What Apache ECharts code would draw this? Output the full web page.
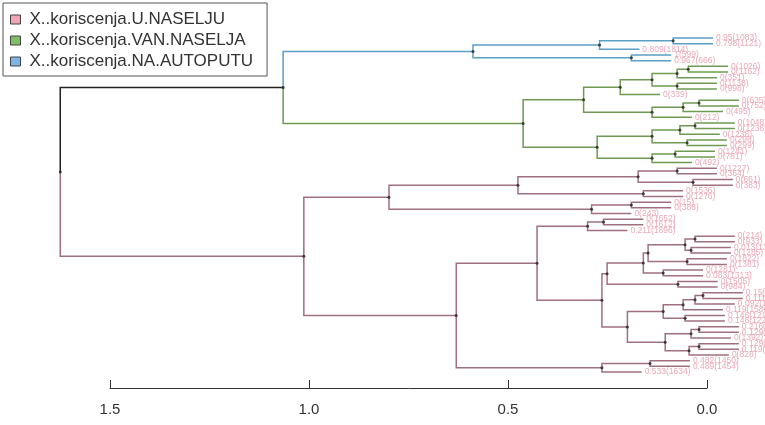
<!DOCTYPE html>
<html><head><meta charset="utf-8">
<script src="https://cdn.jsdelivr.net/npm/echarts@6/dist/echarts.min.js"></script>
<style>html,body{margin:0;padding:0;background:#fff}#c{width:765px;height:425px}</style>
</head><body><div id="c"></div>
<script>
// ---- data ----
const leafLabels = [
  "0.95(1083)","0.798(1121)","0.809(1814)","1(599)","0.967(666)",
  "0(1026)","0(1162)","0(351)","0(1138)","0(998)","0(339)",
  "0(635)","0(752)","0(495)","0(212)",
  "0(1048)","0(1236)","0(1238)","0(298)","0(299)","0(1241)","0(781)","0(492)",
  "0(1227)","0(364)","0(661)","0(383)","0(1536)","0(1276)",
  "0(15)","0(388)","0(243)",
  "0(1652)","0(1612)","0.211(1896)",
  "0(214)","0(933)","0.013(1306)","0(1285)","0(1822)","0(1381)","0(1281)","0.083(1313)","0(1505)","0(984)",
  "0.15(612)","0.111(1111)","0.092(1717)","0.119(1586)","0.146(1213)","0.146(1223)","0.216(1112)","0.129(1237)","0(1392)","0.129(1291)","0.119(1549)","0(828)",
  "0.482(1450)","0.489(1454)","0.533(1634)"
];
const legendNames = ["X..koriscenja.U.NASELJU","X..koriscenja.VAN.NASELJA","X..koriscenja.NA.AUTOPUTU"];
const xTicks = [0, 0.5, 1.0, 1.5];
const rootHeight = 1.625;
const upperHeight = 1.065;
const hang = 0.1;
// internal node = [height, left, right]; leaf = index into leafLabels
const blueTree = [0.588, [0.27, [0.085, 0, 1], 2], [0.19, 3, 4]];
const greenTree = [0.462,
  [0.31,
    [0.218, [0.138, [0.075, [0.047, 5, 6], 7], [0.075, 8, 9]], 10],
    [0.138, [0.06, [0.02, 11, 12], 13], 14]],
  [0.276,
    [0.138, [0.068, [0.03, 15, 16], 17], [0.05, 18, 19]],
    [0.138, [0.08, 20, 21], 22]]];
const pinkQ1 = [0.251, [0.16, [0.148, [0.055, [0.03, 35, 36], [0.04, 37, 38]], [0.05, 39, 40]], [0.11, 41, 42]], [0.073, 43, 44]];
const pinkQ2 = [0.2,
  [0.11, [0.06, [0.03, [0.01, 45, 46], 47], 48], [0.055, 49, 50]],
  [0.105, [0.04, [0.02, 51, 52], 53], [0.045, [0.02, 54, 55], 56]]];
const pinkTree = [1.013,
  [0.799,
    [0.475, [0.173, [0.075, 23, 24], [0.035, 25, 26]], [0.16, 27, 28]],
    [0.29, [0.19, 29, 30], 31]],
  [0.63,
    [0.427, [0.30, [0.26, 32, 33], 34], [0.264, pinkQ1, pinkQ2]],
    [0.264, [0.143, 57, 58], 59]]];

// ---- layout ----
const isLeaf = n => typeof n === 'number';
const nodeY = n => isLeaf(n) ? n : (nodeY(n[1]) + nodeY(n[2])) / 2;
const segs = { pink: [], green: [], blue: [], black: [] };
const dots = [];
const labels = [];
function edge(parent, child, key) {
  const h = parent[0], y = nodeY(parent), cy = nodeY(child);
  const ch = isLeaf(child) ? h - hang : child[0];
  segs[key].push([h, y, h, cy, ch, cy]);
  if (isLeaf(child)) labels.push([ch, cy, leafLabels[child]]);
}
function walk(n, key) {
  if (isLeaf(n)) return;
  dots.push([n[0], nodeY(n)]);
  edge(n, n[1], key); edge(n, n[2], key);
  walk(n[1], key); walk(n[2], key);
}
const upper = [upperHeight, blueTree, greenTree];
const root = [rootHeight, upper, pinkTree];
dots.push([root[0], nodeY(root)], [upper[0], nodeY(upper)]);
edge(root, upper, 'black');
edge(root, pinkTree, 'pink');
edge(upper, blueTree, 'blue');
edge(upper, greenTree, 'green');
walk(blueTree, 'blue'); walk(greenTree, 'green'); walk(pinkTree, 'pink');

const lineColors = { pink: '#a0707f', green: '#6e9a52', blue: '#5b9ec6', black: '#222222' };
const legendColors = ['#f2a5b8', '#7fbf63', '#80b3e3'];

function renderSeg(params, api) {
  const a = api.coord([api.value(0), api.value(1)]);
  const b = api.coord([api.value(2), api.value(3)]);
  const c = api.coord([api.value(4), api.value(5)]);
  return { type: 'polyline', shape: { points: [a, b, c] },
    style: { stroke: api.visual('color'), lineWidth: 1.5, fill: null } };
}
function segSeries(name, key) {
  return { type: 'custom', name: name, renderItem: renderSeg, data: segs[key], clip: false,
    itemStyle: { color: lineColors[key] }, silent: true, z: 2 };
}

const chart = echarts.init(document.getElementById('c'), null, { renderer: 'canvas' });
chart.setOption({
  animation: false,
  backgroundColor: '#ffffff',
  grid: { left: 110, right: 58, top: 38, bottom: 53 },
  legend: {
    orient: 'vertical', left: 3, top: 3,
    padding: [8, 14, 6, 7], itemGap: 4, itemWidth: 10, itemHeight: 9,
    borderColor: '#555', borderWidth: 1, borderRadius: 0,
    icon: 'rect', selectedMode: false,
    textStyle: { fontSize: 17, color: '#333', fontFamily: 'Liberation Sans, Arial, sans-serif', lineHeight: 17, padding: [0, 0, 0, 4] },
    data: legendNames.map((n, i) => ({ name: n, icon: 'rect',
      itemStyle: { color: legendColors[i], borderColor: '#444', borderWidth: 1 } }))
  },
  xAxis: {
    type: 'value', min: 0, max: 1.5, interval: 0.5, inverse: true, offset: 16,
    axisLine: { show: true, onZero: false, lineStyle: { color: '#333', width: 1 } },
    axisTick: { show: true, inside: true, length: 8, lineStyle: { color: '#333' } },
    axisLabel: { fontSize: 15, color: '#333', margin: 14, fontFamily: 'Liberation Sans, Arial, sans-serif',
      formatter: v => xTicks.indexOf(v) >= 0 ? v.toFixed(1) : '' },
    splitLine: { show: false }
  },
  yAxis: { type: 'value', min: 0, max: leafLabels.length - 1, inverse: true, show: false },
  series: [
    segSeries(legendNames[0], 'pink'),
    segSeries(legendNames[1], 'green'),
    segSeries(legendNames[2], 'blue'),
    segSeries('root', 'black'),
    { type: 'scatter', data: dots, symbolSize: 3, clip: false, itemStyle: { color: '#222' }, z: 3, silent: true },
    { type: 'custom', data: labels, clip: false, silent: true, z: 3,
      renderItem: (params, api) => {
        const p = api.coord([api.value(0), api.value(1)]);
        return { type: 'text', x: p[0] + 3, y: p[1],
          style: { text: labels[params.dataIndex][2], fill: '#e9a9b9',
            font: '8.5px "Liberation Sans", Arial, sans-serif', align: 'left', verticalAlign: 'middle' } };
      } }
  ]
});
</script></body></html>
